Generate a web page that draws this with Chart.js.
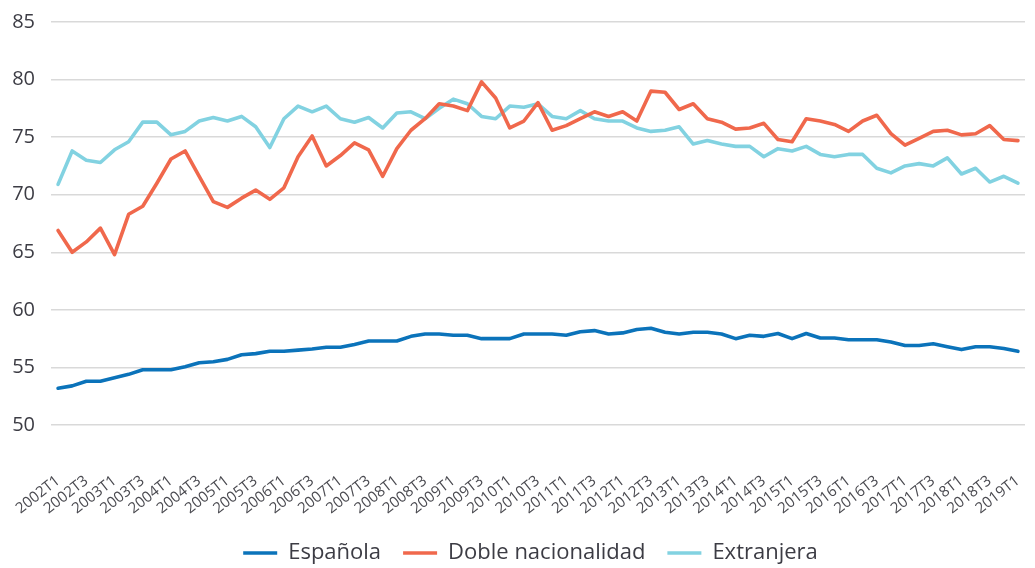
<!DOCTYPE html>
<html>
<head>
<meta charset="utf-8">
<script src="https://cdn.jsdelivr.net/npm/chart.js@4.4.1/dist/chart.umd.min.js"></script>
<style>
html,body{margin:0;padding:0;background:#fff;}
#wrap{width:1035px;height:568px;position:relative;}
</style>
</head>
<body>
<div id="wrap"><canvas id="c" width="1035" height="568"></canvas></div>
<script>
const years = [];
for (let y = 2002; y <= 2019; y++) years.push(y);
const categories = [];
years.forEach(y => { for (let q = 1; q <= 4; q++) { if (y === 2019 && q > 1) break; categories.push(y + 'T' + q); } });

const espanola = [53.2,53.4,53.8,53.8,54.1,54.4,54.8,54.8,54.8,55.05,55.4,55.5,55.7,56.1,56.2,56.4,56.4,56.5,56.6,56.75,56.75,57.0,57.3,57.3,57.3,57.7,57.9,57.9,57.8,57.8,57.5,57.5,57.5,57.9,57.9,57.9,57.8,58.1,58.2,57.9,58.0,58.3,58.4,58.05,57.9,58.05,58.05,57.9,57.5,57.8,57.7,57.95,57.5,57.95,57.55,57.55,57.4,57.4,57.4,57.2,56.9,56.9,57.05,56.8,56.55,56.8,56.8,56.65,56.4];
const doble = [66.9,65.0,65.9,67.1,64.8,68.3,69.0,71.0,73.1,73.8,71.6,69.4,68.9,69.7,70.4,69.6,70.6,73.3,75.1,72.5,73.4,74.5,73.9,71.6,74.0,75.6,76.6,77.9,77.7,77.3,79.8,78.4,75.8,76.4,78.0,75.6,76.0,76.6,77.2,76.8,77.2,76.4,79.0,78.9,77.4,77.9,76.6,76.3,75.7,75.8,76.2,74.8,74.6,76.6,76.4,76.1,75.5,76.4,76.9,75.3,74.3,74.9,75.5,75.6,75.2,75.3,76.0,74.8,74.7];
const extranjera = [70.9,73.8,73.0,72.8,73.9,74.6,76.3,76.3,75.2,75.5,76.4,76.7,76.4,76.8,75.9,74.1,76.6,77.7,77.2,77.7,76.6,76.3,76.7,75.8,77.1,77.2,76.6,77.5,78.3,77.9,76.8,76.6,77.7,77.6,77.9,76.8,76.6,77.3,76.6,76.4,76.4,75.8,75.5,75.6,75.9,74.4,74.7,74.4,74.2,74.2,73.3,74.0,73.8,74.2,73.5,73.3,73.5,73.5,72.3,71.9,72.5,72.7,72.5,73.2,71.8,72.3,71.1,71.6,71.0];
const yTicks = [50,55,60,65,70,75,80,85];

const FONT = "'Open Sans', 'Noto Sans', sans-serif";
function ds(label, data, color) {
  return { label, data, borderColor: color, backgroundColor: color, borderWidth: 3.6,
           pointRadius: 0, pointHoverRadius: 0, tension: 0, fill: false, borderCapStyle: 'round', borderJoinStyle: 'round' };
}

const shiftLegend = {
  id: 'shiftLegend',
  afterLayout(chart) {
    if (chart.legend) { chart.legend.left += 17; chart.legend.right += 17; }
  }
};

new Chart(document.getElementById('c'), {
  type: 'line',
  data: {
    labels: categories,
    datasets: [
      ds('Española', espanola, '#0b73ba'),
      ds('Doble nacionalidad', doble, '#f0684c'),
      ds('Extranjera', extranjera, '#82d2e1')
    ]
  },
  plugins: [shiftLegend],
  options: {
    responsive: false,
    animation: false,
    layout: { padding: { top: 22, right: 10, left: 2, bottom: -6 } },
    plugins: {
      legend: {
        position: 'bottom',
        labels: {
          usePointStyle: true, pointStyle: 'line', pointStyleWidth: 34,
          boxHeight: 4, padding: 22,
          color: '#3c3c44', font: { family: FONT, size: 22 }
        }
      },
      tooltip: { enabled: false }
    },
    scales: {
      x: {
        offset: true,
        grid: { display: false },
        border: { display: false },
        afterFit: s => { s.height = 95; s.paddingLeft = 0; s.paddingRight = 0; },
        ticks: {
          autoSkip: false, maxRotation: 38, minRotation: 38,
          color: '#4a4a50', font: { family: FONT, size: 15 }, padding: 39,
          callback: function(v, i) { return i % 2 === 0 ? categories[i] : ''; }
        }
      },
      y: {
        min: 50, max: 85,
        grid: { color: '#d9d9d9', lineWidth: 1.5, drawTicks: false, tickLength: 0 },
        border: { display: false },
        afterFit: s => { s.width = 49; s.paddingTop = 0; s.paddingBottom = 0; },
        afterBuildTicks: s => { s.ticks = yTicks.map(v => ({ value: v })); },
        ticks: { color: '#3c3c44', font: { family: FONT, size: 20 }, padding: 16 }
      }
    }
  }
});
</script>
</body>
</html>
